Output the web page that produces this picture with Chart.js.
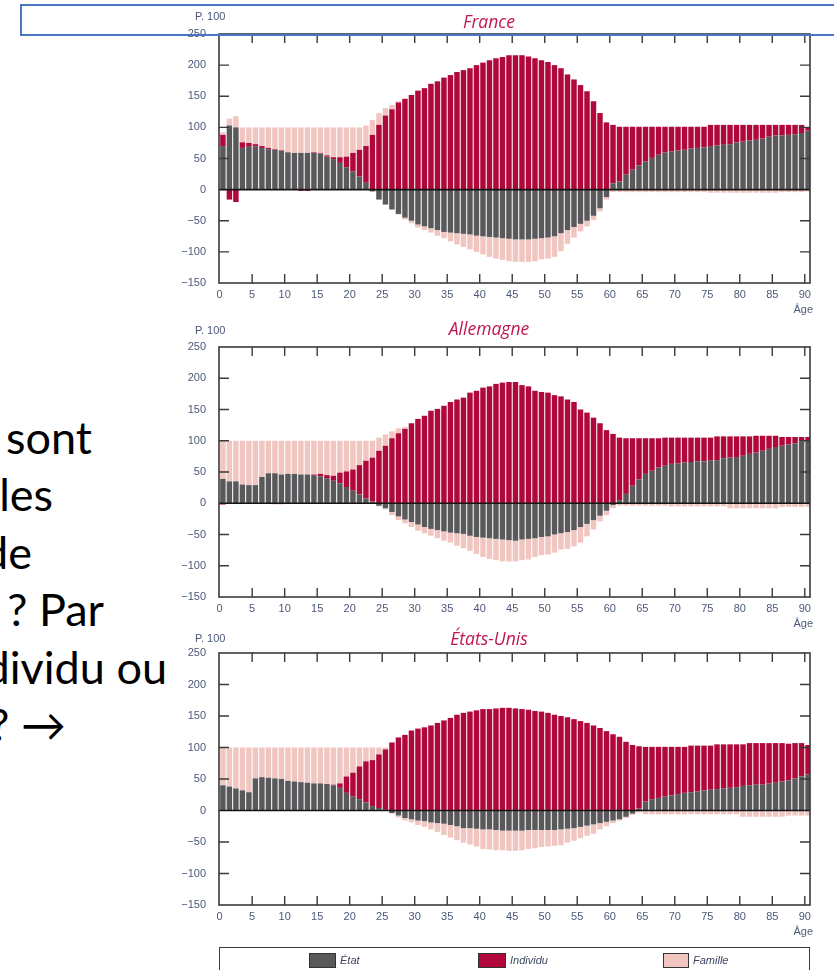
<!DOCTYPE html>
<html lang="fr">
<head>
<meta charset="utf-8">
<title>Transferts selon l'âge</title>
<script src="https://cdn.jsdelivr.net/npm/chart.js@4"></script>
<style>
  html, body { margin: 0; padding: 0; }
  body { width: 834px; height: 970px; position: relative; overflow: hidden; background: #fff; font-family: 'Liberation Sans', Arial, sans-serif; }
  canvas { position: absolute; left: 150px; }
  .cadre { position: absolute; left: 20px; top: 4px; width: 900px; height: 28px; border: 2px solid #4a78c0; z-index: 5; }
  .ligne { position: absolute; font-family: Lato, 'DejaVu Sans', sans-serif; font-size: 45px; line-height: 45px; color: #000; white-space: nowrap; }
  .legende { position: absolute; left: 219px; top: 947px; width: 589px; height: 30px; border: 1.5px solid #3a3a3a; }
  .pastille { position: absolute; top: 5px; height: 13px; border: 1px solid #333; }
  .etiquette { position: absolute; top: 5px; font-size: 11px; font-style: italic; color: #3d4560; line-height: 15px; }
</style>
</head>
<body>
<div class="cadre"></div>

<div class="ligne" style="right:742px; top:415px;">sont</div>
<div class="ligne" style="right:781px; top:472px;">les</div>
<div class="ligne" style="right:802px; top:530px;">de</div>
<div class="ligne" style="right:730px; top:587px;">? Par</div>
<div class="ligne" style="right:667px; top:645px;">dividu ou</div>
<div class="ligne" style="right:768px; top:702px;">? →</div>

<canvas id="c-france"></canvas>
<canvas id="c-allemagne"></canvas>
<canvas id="c-usa"></canvas>

<div class="legende" id="legende"></div>

<script>
// Âges (catégories) et graduations
const ages = [
  0, 1, 2, 3, 4, 5, 6, 7, 8, 9,
  10, 11, 12, 13, 14, 15, 16, 17, 18, 19,
  20, 21, 22, 23, 24, 25, 26, 27, 28, 29,
  30, 31, 32, 33, 34, 35, 36, 37, 38, 39,
  40, 41, 42, 43, 44, 45, 46, 47, 48, 49,
  50, 51, 52, 53, 54, 55, 56, 57, 58, 59,
  60, 61, 62, 63, 64, 65, 66, 67, 68, 69,
  70, 71, 72, 73, 74, 75, 76, 77, 78, 79,
  80, 81, 82, 83, 84, 85, 86, 87, 88, 89,
  90
];
const xTicks = [0, 5, 10, 15, 20, 25, 30, 35, 40, 45, 50, 55, 60, 65, 70, 75, 80, 85, 90];
const yTicks = [-150, -100, -50, 0, 50, 100, 150, 200, 250];

const seriesNames = ['État', 'Individu', 'Famille'];
const seriesColors = ['#59595b', '#b0083a', '#f1c6c1'];
const countries = ['France', 'Allemagne', 'États-Unis'];

// France (p. 100)
const franceEtat = [
  70, 103, 100, 67, 70, 69, 67, 65, 64, 62,
  60, 59, 59, 59, 59, 58, 53, 49, 43, 36,
  29, 21, 11, -3, -16, -24, -32, -39, -45, -50,
  -56, -59, -62, -65, -68, -69, -70, -71, -72, -74,
  -75, -76, -77, -78, -79, -80, -80, -80, -79, -78,
  -77, -75, -70, -65, -60, -55, -50, -42, -30, -12,
  10, 13, 24, 32, 39, 45, 51, 56, 60, 61,
  63, 64, 66, 67, 68, 70, 71, 72, 73, 76,
  77, 79, 80, 82, 85, 87, 87, 88, 89, 91,
  95
];
const franceIndividu = [
  18, -16, -20, 9, 5, 4, 3, 2, 1, 1,
  0, 0, -2, -2, 1, 1, 2, 3, 9, 17,
  30, 43, 59, 88, 104, 119, 129, 140, 146, 152,
  159, 163, 170, 174, 180, 184, 189, 192, 195, 200,
  204, 208, 211, 213, 216, 216, 216, 214, 211, 208,
  205, 200, 195, 185, 177, 168, 158, 142, 123, 108,
  94, 88, 77, 69, 62, 56, 50, 45, 41, 40,
  38, 37, 35, 34, 33, 34, 33, 32, 31, 28,
  27, 25, 24, 22, 19, 17, 17, 16, 15, 13,
  5
];
const franceFamillePlus = [
  4, 11, 18, 24, 25, 27, 30, 33, 35, 37,
  40, 41, 41, 41, 40, 41, 45, 48, 48, 47,
  41, 36, 33, 24, 19, 12, 7, 2, 0, 0,
  0, 0, 0, 0, 0, 0, 0, 0, 0, 0,
  0, 0, 0, 0, 0, 0, 0, 0, 0, 0,
  0, 0, 0, 0, 0, 0, 0, 0, 0, 0,
  0, 0, 0, 0, 0, 0, 0, 0, 0, 0,
  0, 0, 0, 0, 0, 0, 0, 0, 0, 0,
  0, 0, 0, 0, 0, 0, 0, 0, 0, 0,
  0
];
const franceFamilleMoins = [
  0, 0, 0, 0, 0, 0, 0, 0, 0, 0,
  0, 0, 0, 0, 0, 0, 0, 0, 0, 0,
  0, 0, 0, 0, 0, 0, 0, -1, -3, -4,
  -5, -6, -7, -9, -10, -14, -18, -21, -24, -26,
  -29, -32, -34, -35, -36, -36, -36, -36, -36, -34,
  -34, -33, -29, -22, -17, -12, -9, -7, -5, -4,
  -4, -4, -4, -4, -4, -4, -4, -4, -4, -4,
  -4, -4, -4, -4, -4, -5, -5, -5, -5, -5,
  -5, -5, -5, -5, -5, -5, -4, -4, -4, -4,
  -3
];

// Allemagne (p. 100)
const allemagneEtat = [
  39, 35, 35, 30, 29, 29, 42, 48, 48, 46,
  47, 47, 46, 46, 45, 43, 40, 36, 32, 26,
  20, 14, 8, 3, -4, -8, -14, -21, -26, -30,
  -34, -38, -41, -43, -45, -47, -48, -49, -52, -54,
  -55, -56, -57, -58, -59, -60, -58, -57, -56, -54,
  -53, -50, -48, -46, -43, -38, -33, -27, -20, -12,
  -3, 5, 15, 28, 38, 47, 52, 57, 60, 63,
  64, 65, 66, 67, 67, 69, 69, 72, 73, 74,
  76, 79, 81, 84, 87, 90, 92, 94, 96, 99,
  101
];
const allemagneIndividu = [
  -2, 0, 0, 0, 0, 0, 0, 0, -1, -1,
  0, 0, 0, 0, 1, 4, 5, 8, 17, 25,
  34, 47, 60, 70, 84, 92, 104, 112, 119, 128,
  135, 140, 148, 151, 156, 162, 166, 169, 177, 180,
  185, 187, 191, 193, 194, 194, 189, 187, 180, 178,
  177, 173, 171, 166, 162, 150, 145, 137, 128, 117,
  111, 100, 89, 76, 66, 57, 52, 47, 45, 42,
  41, 40, 39, 38, 38, 36, 38, 35, 34, 33,
  31, 28, 27, 24, 21, 18, 14, 12, 10, 7,
  5
];
const allemagneFamillePlus = [
  61, 65, 65, 70, 71, 71, 58, 52, 52, 54,
  53, 53, 54, 54, 54, 53, 55, 56, 51, 49,
  46, 39, 32, 27, 21, 18, 11, 8, 3, 0,
  0, 0, 0, 0, 0, 0, 0, 0, 0, 0,
  0, 0, 0, 0, 0, 0, 0, 0, 0, 0,
  0, 0, 0, 0, 0, 0, 0, 0, 0, 0,
  0, 0, 0, 0, 0, 0, 0, 0, 0, 0,
  0, 0, 0, 0, 0, 0, 0, 0, 0, 0,
  0, 0, 0, 0, 0, 0, 0, 0, 0, 0,
  0
];
const allemagneFamilleMoins = [
  -1, -1, -1, -1, -1, -1, -1, -1, -1, -1,
  -1, -1, -1, -1, -1, -1, -1, -1, -1, -1,
  -1, -1, -1, -1, -1, -2, -5, -6, -6, -8,
  -10, -10, -11, -13, -15, -16, -20, -23, -24, -27,
  -31, -33, -34, -35, -34, -33, -33, -33, -30, -29,
  -29, -29, -26, -27, -26, -25, -20, -15, -9, -7,
  -5, -4, -4, -4, -4, -4, -4, -4, -4, -5,
  -5, -5, -5, -5, -5, -5, -5, -5, -8, -8,
  -8, -8, -8, -8, -8, -8, -6, -6, -6, -6,
  -6
];

// États-Unis (p. 100)
const usaEtat = [
  40, 38, 35, 32, 29, 51, 53, 52, 51, 50,
  47, 46, 45, 44, 43, 43, 42, 40, 36, 28,
  22, 18, 13, 7, 4, 1, -4, -8, -12, -14,
  -16, -17, -19, -20, -21, -23, -25, -28, -28, -29,
  -30, -30, -31, -32, -32, -32, -32, -31, -31, -31,
  -31, -31, -30, -29, -28, -26, -24, -22, -20, -18,
  -16, -14, -10, -5, 3, 14, 18, 20, 22, 24,
  26, 28, 29, 30, 32, 33, 34, 35, 36, 37,
  39, 40, 41, 41, 43, 44, 46, 48, 51, 54,
  57
];
const usaIndividu = [
  0, 0, 0, 0, 0, 0, 0, 0, 0, 0,
  0, 0, 0, 0, 0, 0, 0, 1, 7, 26,
  38, 52, 65, 73, 85, 96, 108, 116, 120, 127,
  130, 132, 135, 139, 143, 147, 152, 155, 157, 159,
  161, 161, 162, 163, 163, 162, 161, 160, 158, 157,
  155, 152, 150, 148, 145, 142, 139, 135, 131, 126,
  121, 117, 109, 104, 99, 87, 83, 81, 79, 77,
  75, 73, 74, 73, 71, 70, 71, 70, 69, 68,
  66, 67, 66, 66, 64, 63, 61, 58, 56, 53,
  47
];
const usaFamillePlus = [
  60, 62, 65, 68, 71, 49, 47, 48, 49, 50,
  53, 54, 55, 56, 57, 57, 58, 59, 57, 46,
  40, 30, 22, 20, 11, 3, 0, 0, 0, 0,
  0, 0, 0, 0, 0, 0, 0, 0, 0, 0,
  0, 0, 0, 0, 0, 0, 0, 0, 0, 0,
  0, 0, 0, 0, 0, 0, 0, 0, 0, 0,
  0, 0, 0, 0, 0, 0, 0, 0, 0, 0,
  0, 0, 0, 0, 0, 0, 0, 0, 0, 0,
  0, 0, 0, 0, 0, 0, 0, 0, 0, 0,
  0
];
const usaFamilleMoins = [
  0, 0, 0, 0, 0, 0, 0, 0, 0, 0,
  0, 0, 0, 0, 0, 0, 0, 0, 0, 0,
  0, 0, 0, 0, 0, 0, -1, -3, -4, -5,
  -7, -9, -11, -14, -18, -20, -22, -23, -26, -28,
  -31, -32, -32, -31, -32, -32, -31, -30, -29, -27,
  -26, -25, -25, -22, -20, -18, -16, -15, -10, -7,
  -4, -2, -2, -2, -3, -6, -6, -6, -6, -6,
  -6, -6, -6, -6, -6, -6, -6, -6, -6, -6,
  -10, -10, -10, -10, -10, -10, -10, -8, -8, -8,
  -8
];

const panels = [
  { id: 'c-france', title: countries[0], etat: franceEtat, individu: franceIndividu,
    famillePlus: franceFamillePlus, familleMoins: franceFamilleMoins,
    plotTop: 34, plotBottom: 283, titleDy: -6, unitDy: -14 },
  { id: 'c-allemagne', title: countries[1], etat: allemagneEtat, individu: allemagneIndividu,
    famillePlus: allemagneFamillePlus, familleMoins: allemagneFamilleMoins,
    plotTop: 347, plotBottom: 597, titleDy: -12, unitDy: -13 },
  { id: 'c-usa', title: countries[2], etat: usaEtat, individu: usaIndividu,
    famillePlus: usaFamillePlus, familleMoins: usaFamilleMoins,
    plotTop: 653, plotBottom: 905, titleDy: -8, unitDy: -11 }
];

const tickFont = { family: "'Liberation Sans', Arial, sans-serif", size: 11 };
const tickColor = '#4b5878';
const PAD_TOP = 34;
const CANVAS_LEFT = 150;

// cadre, graduations intérieures, ligne du zéro et textes
const decor = {
  id: 'decor',
  afterDatasetsDraw(chart, args, opts) {
    const { ctx, chartArea: a, scales: { x, y } } = chart;
    ctx.save();
    const y0 = y.getPixelForValue(0);
    ctx.strokeStyle = '#151515';
    ctx.lineWidth = 1.6;
    ctx.beginPath();
    ctx.moveTo(a.left, y0);
    ctx.lineTo(a.right, y0);
    ctx.stroke();

    ctx.strokeStyle = '#3a3a3a';
    ctx.lineWidth = 1.6;
    ctx.strokeRect(a.left, a.top, a.right - a.left, a.bottom - a.top);

    ctx.lineWidth = 1.4;
    ctx.beginPath();
    xTicks.forEach(v => {
      if (v === 0) return;
      const px = x.getPixelForValue(v);
      ctx.moveTo(px, a.top); ctx.lineTo(px, a.top + 9);
      ctx.moveTo(px, a.bottom); ctx.lineTo(px, a.bottom - 9);
    });
    yTicks.forEach(v => {
      if (v === 0 || v === yTicks[0] || v === yTicks[yTicks.length - 1]) return;
      const py = y.getPixelForValue(v);
      ctx.moveTo(a.left, py); ctx.lineTo(a.left + 10, py);
      ctx.moveTo(a.right, py); ctx.lineTo(a.right - 10, py);
    });
    ctx.stroke();

    ctx.fillStyle = tickColor;
    ctx.font = "11px 'Liberation Sans', Arial, sans-serif";
    ctx.textAlign = 'left';
    ctx.textBaseline = 'alphabetic';
    ctx.fillText('P. 100', 195 - CANVAS_LEFT, a.top + opts.unitDy);
    ctx.textAlign = 'right';
    ctx.fillText('Âge', 813 - CANVAS_LEFT, a.bottom + 30);

    ctx.fillStyle = '#c0174f';
    ctx.font = "italic 17.5px 'Open Sans', sans-serif";
    ctx.textAlign = 'center';
    ctx.fillText(opts.title, 489 - CANVAS_LEFT, a.top + opts.titleDy);
    ctx.restore();
  }
};

const toPoints = (values) => values.map((v, i) => ({ x: ages[i] + 0.5, y: v }));

const makeDataset = (label, values, color) => ({
  label: label,
  data: toPoints(values),
  backgroundColor: color,
  borderWidth: 0,
  stack: 'age',
  barPercentage: 0.84,
  categoryPercentage: 1
});

const makeChart = (panel) => {
  const canvas = document.getElementById(panel.id);
  const height = panel.plotBottom - panel.plotTop + PAD_TOP + 36;
  canvas.width = 684;
  canvas.height = height;
  canvas.style.top = (panel.plotTop - PAD_TOP) + 'px';

  return new Chart(canvas.getContext('2d'), {
    type: 'bar',
    data: {
      datasets: [
        makeDataset(seriesNames[0], panel.etat, seriesColors[0]),
        makeDataset(seriesNames[1], panel.individu, seriesColors[1]),
        makeDataset(seriesNames[2], panel.famillePlus, seriesColors[2]),
        makeDataset(seriesNames[2], panel.familleMoins, seriesColors[2])
      ]
    },
    options: {
      responsive: false,
      animation: false,
      layout: { padding: { top: PAD_TOP, right: 24, bottom: 0, left: 0 } },
      plugins: {
        legend: { display: false },
        tooltip: { enabled: false },
        decor: { title: panel.title, titleDy: panel.titleDy, unitDy: panel.unitDy }
      },
      scales: {
        x: {
          type: 'linear',
          stacked: true,
          offset: false,
          min: -0.1,
          max: 90.8,
          grid: { display: false },
          border: { display: false },
          afterBuildTicks: (s) => { s.ticks = xTicks.map(v => ({ value: v })); },
          afterFit: (s) => { s.height = 36; },
          ticks: { font: tickFont, color: tickColor, padding: -3, maxRotation: 0, autoSkip: false }
        },
        y: {
          stacked: true,
          min: yTicks[0],
          max: yTicks[yTicks.length - 1],
          grid: { display: false },
          border: { display: false },
          afterBuildTicks: (s) => { s.ticks = yTicks.map(v => ({ value: v })); },
          afterFit: (s) => { s.width = 69; },
          ticks: {
            font: tickFont, color: tickColor, padding: 5,
            callback: (v) => v < 0 ? '\u2212' + Math.abs(v) : String(v)
          }
        }
      }
    },
    plugins: [decor]
  });
};

const buildLegend = () => {
  const box = document.getElementById('legende');
  const swatchLeft = [89, 258, 443];
  const swatchWidth = [25, 26, 24];
  seriesNames.forEach((name, i) => {
    const sw = document.createElement('span');
    sw.className = 'pastille';
    sw.style.left = swatchLeft[i] + 'px';
    sw.style.width = swatchWidth[i] + 'px';
    sw.style.background = seriesColors[i];
    box.appendChild(sw);
    const lab = document.createElement('span');
    lab.className = 'etiquette';
    lab.style.left = (swatchLeft[i] + swatchWidth[i] + 6) + 'px';
    lab.textContent = name;
    box.appendChild(lab);
  });
};

document.addEventListener('DOMContentLoaded', () => {
  try {
    panels.forEach(makeChart);
    buildLegend();
  } catch (error) {
    console.error('Erreur de rendu :', error);
  }
});
</script>
</body>
</html>
